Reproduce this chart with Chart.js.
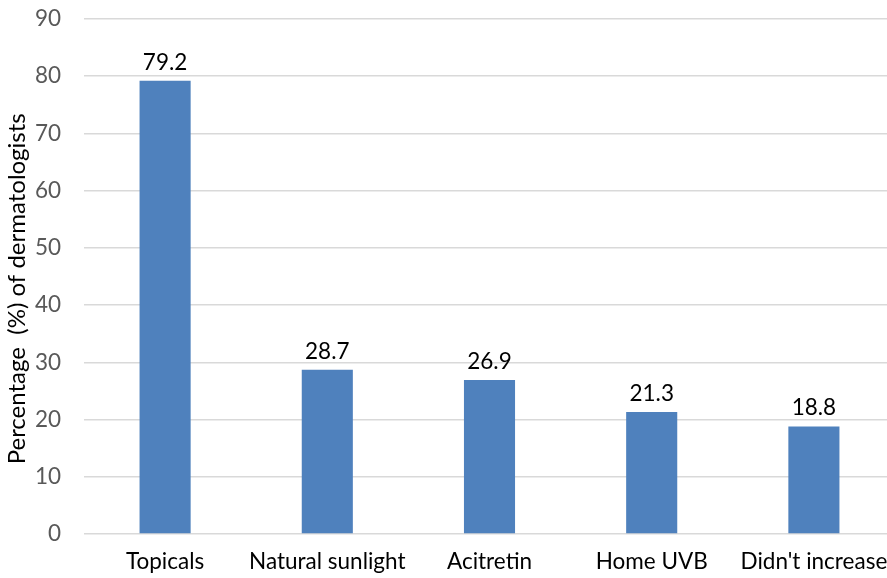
<!DOCTYPE html>
<html>
<head>
<meta charset="utf-8">
<script src="https://cdn.jsdelivr.net/npm/chart.js@4"></script>
<style>
  html, body { margin: 0; padding: 0; background: #fff; overflow: hidden; }
  #wrap { width: 895px; height: 578px; position: relative; }
</style>
</head>
<body>
<div id="wrap"><canvas id="bar-chart"></canvas></div>
<script>
"use strict"

// chart data
const categories = ['Topicals', 'Natural sunlight', 'Acitretin', 'Home UVB', "Didn't increase"];
const percentages = [79.2, 28.7, 26.9, 21.3, 18.8];
const yTicks = [0, 10, 20, 30, 40, 50, 60, 70, 80, 90];

const FONT = "Lato, 'Open Sans', sans-serif";

// value labels above each bar
const valueLabels = {
  id: 'valueLabels',
  afterDatasetsDraw(chart) {
    const ctx = chart.ctx;
    const meta = chart.getDatasetMeta(0);
    ctx.save();
    ctx.font = '22.5px ' + FONT;
    ctx.fillStyle = '#000';
    ctx.textAlign = 'center';
    ctx.textBaseline = 'bottom';
    meta.data.forEach((bar, i) => {
      ctx.fillText(percentages[i].toFixed(1), bar.x, bar.y - 7);
    });
    ctx.restore();
  }
};

const data = {
  labels: categories,
  datasets: [{
    data: percentages,
    backgroundColor: '#4F81BD',
    barPercentage: 0.315,
    categoryPercentage: 1
  }]
};

const config = {
  type: 'bar',
  data,
  options: {
    responsive: true,
    maintainAspectRatio: false,
    animation: false,
    layout: { padding: { top: 19, right: 0, bottom: 0, left: 0 } },
    plugins: {
      legend: { display: false },
      tooltip: { enabled: false }
    },
    scales: {
      x: {
        grid: { display: false },
        border: { display: false },
        ticks: { color: '#000', font: { family: FONT, size: 22.5 }, padding: 6, maxRotation: 0 },
        afterFit(scale) { scale.height = 44; }
      },
      y: {
        min: 0,
        max: 90,
        afterBuildTicks(scale) { scale.ticks = yTicks.map(v => ({ value: v })); },
        // invisible tick marks give the gap between labels and plot
        grid: { color: '#D9D9D9', lineWidth: 1.5, drawTicks: true, tickLength: 21, tickColor: 'rgba(0,0,0,0)' },
        border: { display: false },
        ticks: { color: '#595959', font: { family: FONT, size: 22.5 }, padding: 2 },
        title: {
          display: true,
          // trailing spaces nudge the rotated title down a little
          text: 'Percentage  (%) of dermatologists\u00a0\u00a0\u00a0\u00a0',
          color: '#000',
          font: { family: FONT, size: 24 },
          padding: { top: 3, bottom: 2 }
        },
        afterFit(scale) { scale.width = 84; }
      }
    }
  },
  plugins: [valueLabels]
};

const barChart = new Chart(document.getElementById('bar-chart'), config);
</script>
</body>
</html>
